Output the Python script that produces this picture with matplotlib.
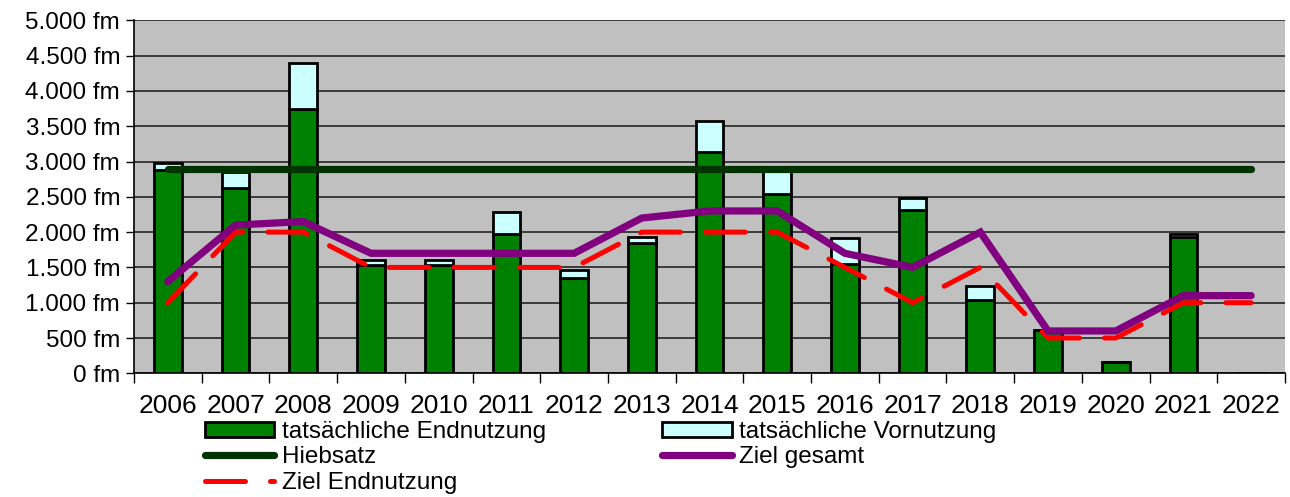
from matplotlib import pyplot as plt
from matplotlib.ticker import FuncFormatter, MultipleLocator, FixedLocator
import numpy as np

plt.rcParams['font.family'] = ['Liberation Sans', 'DejaVu Sans']

# Daten (Festmeter)
jahre = ['2006', '2007', '2008', '2009', '2010', '2011', '2012', '2013', '2014',
         '2015', '2016', '2017', '2018', '2019', '2020', '2021', '2022']
endnutzung = [2880, 2620, 3750, 1530, 1530, 1980, 1350, 1840, 3130,
              2540, 1550, 2310, 1040, 610, 160, 1930, 0]
vornutzung = [95, 230, 650, 75, 75, 300, 115, 90, 450,
              320, 370, 180, 200, 0, 0, 50, 0]
hiebsatz = [2900] * 17
ziel_gesamt = [1300, 2100, 2150, 1700, 1700, 1700, 1700, 2200, 2300,
               2300, 1700, 1500, 2000, 600, 600, 1100, 1100]
ziel_endnutzung = [1000, 2000, 2000, 1500, 1500, 1500, 1500, 2000, 2000,
                   2000, 1500, 1000, 1500, 500, 500, 1000, 1000]

fig = plt.figure(figsize=(12.9, 4.97), dpi=100)
ax = fig.add_axes((0.1039, 0.2489, 0.8922, 0.7101))
ax.set_facecolor('#C0C0C0')

x = np.arange(len(jahre))
b1 = ax.bar(x, endnutzung, width=0.41, color='#008000', edgecolor='black',
            linewidth=2, zorder=3, label='tatsächliche Endnutzung')
b2 = ax.bar(x, vornutzung, width=0.41, bottom=endnutzung, color='#CCFFFF',
            edgecolor='black', linewidth=2, zorder=3, label='tatsächliche Vornutzung')

l_ze, = ax.plot(x, ziel_endnutzung, color='#FF0000', lw=3.6, ls=(0, (8, 5)),
                dash_capstyle='round', zorder=4, label='Ziel Endnutzung')
l_zg, = ax.plot(x, ziel_gesamt, color='#800080', lw=5.2, solid_capstyle='round',
                solid_joinstyle='miter', zorder=5, label='Ziel gesamt')
l_h, = ax.plot(x, hiebsatz, color='#003300', lw=5.2, solid_capstyle='round',
               zorder=6, label='Hiebsatz')

ax.set_xlim(-0.5, len(jahre) - 0.5)
ax.set_ylim(0, 5000)
ax.yaxis.set_major_locator(MultipleLocator(500))
ax.yaxis.set_major_formatter(FuncFormatter(lambda v, p: f'{int(v):,} fm'.replace(',', '.')))
ax.grid(axis='y', color='#303030', lw=1.3, zorder=1)
ax.set_axisbelow(True)

# Jahreszahlen mittig, Striche an den Kategoriegrenzen
ax.xaxis.set_major_locator(FixedLocator(np.arange(-0.5, len(jahre), 1)))
ax.xaxis.set_minor_locator(FixedLocator(x))
ax.set_xticklabels([])
ax.set_xticklabels(jahre, minor=True)
ax.tick_params(axis='x', which='major', direction='out', length=7, width=1, color='black')
ax.tick_params(axis='x', which='minor', length=0, labelsize=19, pad=15)
ax.tick_params(axis='y', direction='out', length=6, width=1, labelsize=17.5, pad=4)

for s in ['top', 'right']:
    ax.spines[s].set_visible(False)
for s in ['left', 'bottom']:
    ax.spines[s].set_color('black')
    ax.spines[s].set_linewidth(1.2)

ax.legend(handles=[b1, l_h, l_ze, b2, l_zg], ncol=2, loc='upper left',
          bbox_to_anchor=(205 / 1290, 1 - 421 / 497), bbox_transform=fig.transFigure,
          frameon=False, fontsize=17.5, handlelength=2.85, handleheight=0.55,
          handletextpad=0.3, labelspacing=0.14, columnspacing=4.8, borderpad=0,
          borderaxespad=0)

fig.savefig('out.png', dpi=100)
